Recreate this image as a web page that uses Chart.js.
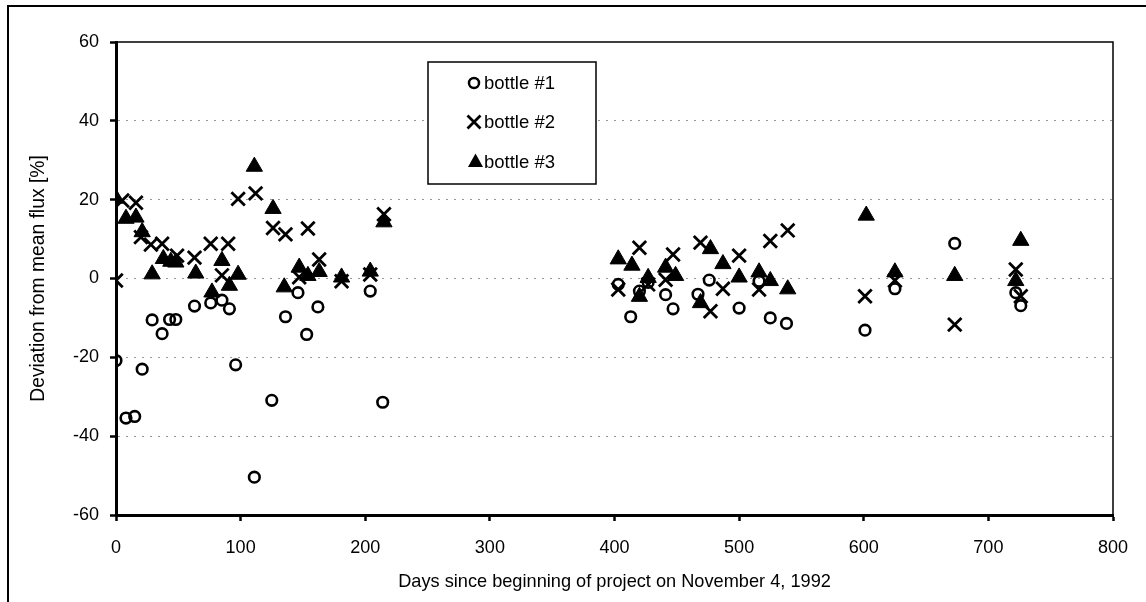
<!DOCTYPE html>
<html>
<head>
<meta charset="utf-8">
<title>Deviation from mean flux</title>
<script src="https://cdn.jsdelivr.net/npm/chart.js"></script>
<style>
  html, body { margin: 0; padding: 0; background: #fff; }
  #wrap { width: 1146px; height: 602px; }
</style>
</head>
<body>
<div id="wrap"><canvas id="flux" width="1146" height="602"></canvas></div>
<script>
// days since start of project, deviation from mean flux in %
const days1 = [0, 8, 15, 21, 29, 37, 43, 48, 63, 76, 85, 91, 96, 111, 125, 136, 146, 153, 162, 204, 214,
  403, 413, 420, 427, 441, 447, 467, 476, 500, 516, 525, 538, 601, 625, 673, 722, 726];
const dev1 = [-20.8, -35.4, -35, -23, -10.5, -14, -10.4, -10.4, -7, -6.2, -5.5, -7.7, -21.9, -50.4, -30.9, -9.7, -3.6, -14.2, -7.2, -3.2, -31.4,
  -1.5, -9.7, -3.2, -1, -4.1, -7.7, -4, -0.4, -7.5, -0.7, -10, -11.4, -13.1, -2.6, 8.9, -3.6, -6.9];

const days2 = [0, 5, 16, 20, 28, 37, 49, 63, 76, 85, 90, 98, 112, 126, 136, 147, 154, 163, 181, 204, 215,
  403, 420, 427, 441, 447, 469, 477, 487, 500, 516, 525, 539, 601, 625, 673, 722, 726];
const dev2 = [-0.5, 19.8, 19.2, 10.5, 8.6, 8.8, 5.8, 5.3, 8.8, 0.8, 8.8, 20.2, 21.6, 12.8, 11.2, 0.3, 12.7, 4.8, -0.7, 1, 16.3,
  -2.8, 7.8, -1.5, -0.3, 6.1, 9.1, -8.3, -2.6, 5.8, -2.8, 9.5, 12.2, -4.5, -0.5, -11.7, 2.3, -4.5];

const days3 = [0, 8, 16, 21, 29, 38, 44, 48, 64, 77, 85, 91, 98, 111, 126, 135, 147, 154, 163, 181, 204, 215,
  403, 414, 420, 427, 441, 449, 469, 477, 487, 500, 516, 525, 539, 602, 625, 673, 722, 726];
const dev3 = [20.3, 15.2, 15.5, 11.8, 1.1, 5, 4.3, 4.1, 1.3, -3.5, 4.5, -1.8, 1, 28.4, 17.7, -2.2, 2.8, 0.7, 1.7, 0.3, 1.8, 14.3,
  4.9, 3.3, -4.6, 0.2, 2.8, 0.7, -6.2, 7.5, 3.7, 0.3, 1.6, -0.6, -2.7, 16, 1.6, 0.7, -0.6, 9.6];

const seriesNames = ['bottle #1', 'bottle #2', 'bottle #3'];
const xTickValues = [0, 100, 200, 300, 400, 500, 600, 700, 800];
const yTickValues = [-60, -40, -20, 0, 20, 40, 60];

const FONT = "'Liberation Sans', Arial, sans-serif";

function toPoints(xs, ys) {
  return xs.map((x, i) => ({ x: x, y: ys[i] }));
}

// thin top/right border of the plot and the outer frame
const framePlugin = {
  id: 'frame',
  beforeDraw(chart) {
    const ctx = chart.ctx;
    ctx.save();
    ctx.fillStyle = '#fff';
    ctx.fillRect(0, 0, chart.width, chart.height);
    ctx.strokeStyle = '#000';
    ctx.lineWidth = 2;
    ctx.beginPath();
    ctx.moveTo(8, chart.height);
    ctx.lineTo(8, 6);
    ctx.lineTo(chart.width, 6);
    ctx.stroke();
    ctx.restore();
  },
  afterDraw(chart) {
    const { ctx, chartArea: a } = chart;
    ctx.save();
    ctx.strokeStyle = '#000';
    ctx.lineWidth = 1.5;
    ctx.beginPath();
    ctx.moveTo(a.left, a.top);
    ctx.lineTo(a.right, a.top);
    ctx.lineTo(a.right, a.bottom);
    ctx.stroke();
    ctx.restore();
  }
};

// boxed legend inside the plot
const boxLegend = {
  id: 'boxLegend',
  afterDraw(chart) {
    const ctx = chart.ctx;
    const bx = 428, by = 62, bw = 168, bh = 122;
    ctx.save();
    ctx.fillStyle = '#fff';
    ctx.fillRect(bx, by, bw, bh);
    ctx.strokeStyle = '#000';
    ctx.lineWidth = 1.5;
    ctx.strokeRect(bx, by, bw, bh);
    ctx.font = '18.5px ' + FONT;
    ctx.fillStyle = '#000';
    ctx.textBaseline = 'middle';
    const rows = [83, 122, 162];
    const mx = 474;
    rows.forEach((ry, i) => {
      ctx.beginPath();
      if (i === 0) {
        ctx.lineWidth = 2.5;
        ctx.arc(mx, ry, 5, 0, Math.PI * 2);
        ctx.stroke();
      } else if (i === 1) {
        ctx.lineWidth = 2.8;
        ctx.moveTo(mx - 6.5, ry - 6.5); ctx.lineTo(mx + 6.5, ry + 6.5);
        ctx.moveTo(mx + 6.5, ry - 6.5); ctx.lineTo(mx - 6.5, ry + 6.5);
        ctx.stroke();
      } else {
        ctx.moveTo(mx + 1.5, ry - 8.5);
        ctx.lineTo(mx + 9, ry + 5);
        ctx.lineTo(mx - 6, ry + 5);
        ctx.closePath();
        ctx.fill();
      }
      ctx.fillText(seriesNames[i], 484, ry + 1);
    });
    ctx.restore();
  }
};

new Chart(document.getElementById('flux'), {
  type: 'scatter',
  data: {
    datasets: [
      {
        label: seriesNames[0],
        data: toPoints(days1, dev1),
        pointStyle: 'circle',
        pointRadius: 5.3,
        pointBorderWidth: 2.6,
        borderColor: '#000',
        backgroundColor: 'rgba(0,0,0,0)',
        order: 2
      },
      {
        label: seriesNames[1],
        data: toPoints(days2, dev2),
        pointStyle: 'crossRot',
        pointRadius: 9.5,
        pointBorderWidth: 2.8,
        borderColor: '#000',
        backgroundColor: '#000',
        order: 1
      },
      {
        label: seriesNames[2],
        data: toPoints(days3, dev3),
        pointStyle: 'triangle',
        pointRadius: 9.4,
        pointBorderWidth: 1,
        borderColor: '#000',
        backgroundColor: '#000',
        order: 0
      }
    ]
  },
  options: {
    responsive: false,
    animation: false,
    events: [],
    layout: { padding: { left: 0, right: 33, top: 42, bottom: 0 } },
    plugins: {
      legend: { display: false },
      tooltip: { enabled: false }
    },
    scales: {
      x: {
        type: 'linear',
        min: 0,
        max: 800,
        afterFit: s => { s.height = 87; },
        afterBuildTicks: s => { s.ticks = xTickValues.map(v => ({ value: v })); },
        ticks: {
          color: '#000',
          padding: 16,
          font: { family: FONT, size: 18 },
          maxRotation: 0
        },
        grid: {
          drawOnChartArea: false,
          drawTicks: true,
          tickLength: 6,
          tickWidth: 2.5,
          tickColor: '#000'
        },
        border: { display: true, color: '#000', width: 3 },
        title: {
          display: true,
          text: 'Days since beginning of project on November 4, 1992',
          color: '#000',
          font: { family: FONT, size: 18.2 },
          padding: { top: 0, bottom: 9 }
        }
      },
      y: {
        type: 'linear',
        min: -60,
        max: 60,
        afterFit: s => { s.width = 116; },
        afterBuildTicks: s => { s.ticks = yTickValues.map(v => ({ value: v })); },
        ticks: {
          color: '#000',
          padding: 11,
          font: { family: FONT, size: 18 }
        },
        grid: {
          color: c => (c.tick && Math.abs(c.tick.value) === 60) ? 'rgba(0,0,0,0)' : '#999',
          lineWidth: 1,
          drawTicks: true,
          tickLength: 6,
          tickWidth: 2.5,
          tickColor: '#000'
        },
        border: { display: true, color: '#000', width: 3, dash: [2, 6] },
        title: {
          display: true,
          text: 'Deviation from mean flux [%]',
          color: '#000',
          font: { family: FONT, size: 19.3 },
          padding: { top: 27, bottom: 0 }
        }
      }
    }
  },
  plugins: [framePlugin, boxLegend]
});
</script>
</body>
</html>
